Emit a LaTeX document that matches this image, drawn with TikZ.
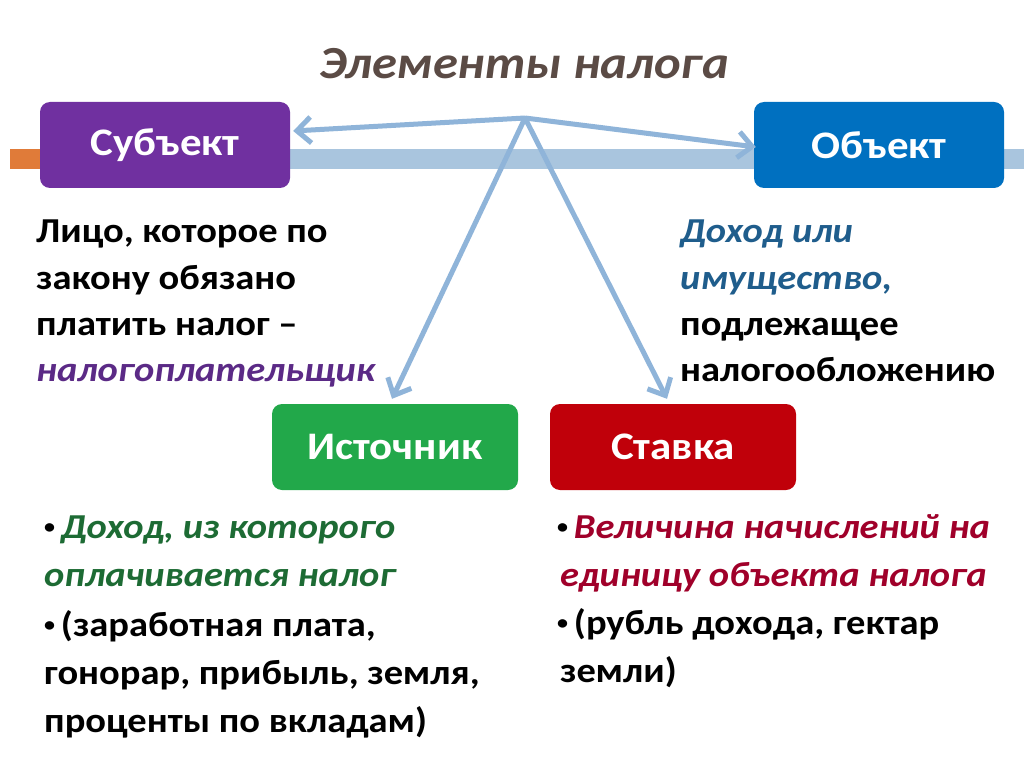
\documentclass[tikz,border=0pt]{standalone}
\usepackage{fontspec}
\setmainfont[FakeStretch=1.1]{Carlito}
\usetikzlibrary{arrows.meta}
\definecolor{cpurple}{HTML}{7030A0}
\definecolor{cblue}{HTML}{0070C0}
\definecolor{cgreen}{HTML}{22A84A}
\definecolor{cred}{HTML}{C0000A}
\definecolor{cband}{HTML}{A9C5DE}
\definecolor{carrow}{HTML}{8FB4D9}
\definecolor{corange}{HTML}{E07B39}
\definecolor{ctitle}{HTML}{5B4B45}
\definecolor{tblue}{HTML}{1F5D8C}
\definecolor{tgreen}{HTML}{1D6B34}
\definecolor{tred}{HTML}{A0002A}
\definecolor{tpurple}{HTML}{5B2A86}
\newcommand{\mybul}{\raisebox{5pt}{\fontsize{20}{20}\selectfont•}\,}
\begin{document}
\begin{tikzpicture}[x=1pt,y=-1pt,
  box/.style={rounded corners=10pt, minimum width=250pt, minimum height=86pt, text=white,
    font=\bfseries\fontsize{39}{40}\selectfont, inner sep=0pt},
  arr/.style={draw=carrow, line width=5pt, -{Straight Barb[length=14pt,width=26pt,line width=5pt]}},
  body/.style={anchor=base west, inner sep=0pt, font=\bfseries\fontsize{35}{40}\selectfont},
  ital/.style={body, font=\bfseries\itshape\fontsize{35}{40}\selectfont}]
\useasboundingbox[fill=white] (0,0) rectangle (1024,767);
% band
\fill[cband] (10,149) rectangle (1024,169);
\fill[corange] (10,149) rectangle (42,169);
% title
\node[font=\bfseries\itshape\fontsize{46}{48}\selectfont, text=ctitle] (title) at (524,64) {Элементы налога};
% boxes
\node[box, fill=cpurple] (subj) at (165,145) {Субъект};
\node[box, fill=cblue] (obj) at (879,145) {Объект};
\node[box, fill=cgreen, minimum width=246pt] (ist) at (395,447) {Источник};
\node[box, fill=cred, minimum width=246pt] (stv) at (673,447) {Ставка};
% arrows
\coordinate (apex) at (525,118);
\draw[arr, line join=round] (apex) -- ([xshift=3pt,yshift=14pt]subj.east);
\draw[arr, line join=round] (apex) -- ([xshift=2pt,yshift=-2pt]obj.west);
\draw[arr] (apex) -- ([xshift=-3pt,yshift=5pt]ist.north);
\draw[arr] (apex) -- ([xshift=-6pt,yshift=5pt]stv.north);
% left text
\node[body] (l1) at (36,243) {Лицо, которое по};
\node[body] (l2) at (36,289) {закону обязано};
\node[body] (l3) at (36,335) {платить налог –};
\node[ital, text=tpurple] (l4) at (36,381) {налогоплательщик};
% right text
\node[ital, text=tblue] (r1) at (680,243) {Доход или};
\node[ital, text=tblue] (r2) at (680,289) {имущество,};
\node[body] (r3) at (680,335) {подлежащее};
\node[body] (r4) at (680,381) {налогообложению};
% bottom left
\node[body] (b1) at (44,538) {\mybul\textcolor{tgreen}{\itshape Доход, из которого}};
\node[ital, text=tgreen] (b2) at (44,586) {оплачивается налог};
\node[body] (b3) at (44,636) {\mybul(заработная плата,};
\node[body] (b4) at (44,684) {гонорар, прибыль, земля,};
\node[body] (b5) at (44,732) {проценты по вкладам)};
% bottom right
\node[body] (c1) at (557,538) {\mybul\textcolor{tred}{\itshape Величина начислений на}};
\node[ital, text=tred] (c2) at (560,586) {единицу объекта налога};
\node[body] (c3) at (557,634) {\mybul(рубль дохода, гектар};
\node[body] (c4) at (560,682) {земли)};
\end{tikzpicture}
\end{document}
